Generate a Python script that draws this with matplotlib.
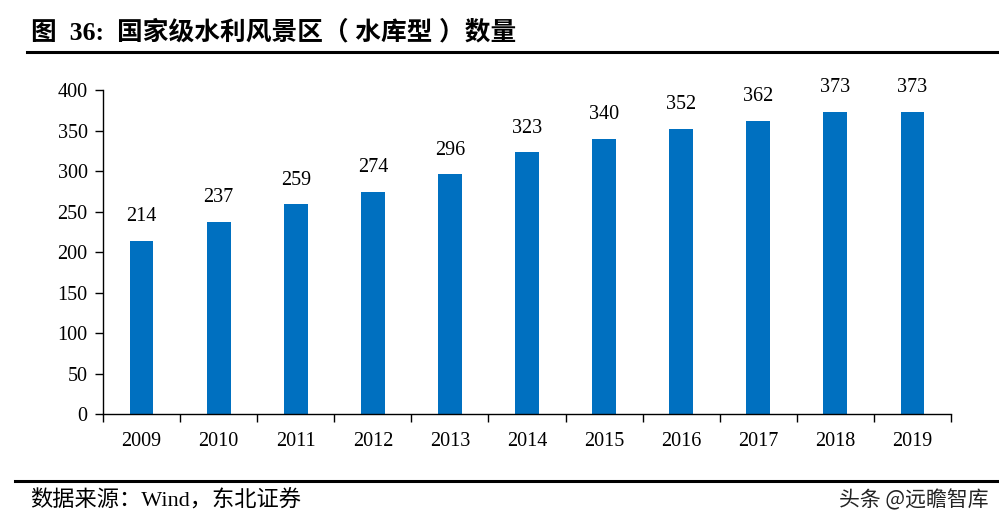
import matplotlib
matplotlib.use("Agg")
import matplotlib.pyplot as plt
from matplotlib.lines import Line2D

years = ["2009", "2010", "2011", "2012", "2013", "2014", "2015", "2016", "2017", "2018", "2019"]
counts = [214, 237, 259, 274, 296, 323, 340, 352, 362, 373, 373]
y_ticks = [0, 50, 100, 150, 200, 250, 300, 350, 400]

serif = ["Liberation Serif", "Noto Sans CJK SC"]
cjk = ["Noto Sans CJK SC", "DejaVu Sans"]

fig = plt.figure(figsize=(9.99, 5.23), dpi=100)
ax = fig.add_axes([0.1031, 0.2084, 0.8489, 0.6195])

x = list(range(len(years)))
ax.bar(x, counts, width=0.31, color="#0070C0")
for xi, v in zip(x, counts):
    ax.text(xi, v + 18, str(v), ha="center", va="bottom",
            fontsize=14.5, family=serif)

ax.set_xlim(-0.5, len(years) - 0.5)
ax.set_ylim(0, 400)
ax.set_yticks(y_ticks)
ax.set_yticklabels([str(t) for t in y_ticks], family=serif, fontsize=14.5)
ax.set_xticks(x)
ax.set_xticklabels(years, family=serif, fontsize=14.5)
ax.tick_params(axis="x", length=0, pad=13)
ax.set_xticks([i - 0.5 for i in range(len(years) + 1)], minor=True)
ax.tick_params(axis="x", which="minor", length=6, direction="out", width=1)
ax.tick_params(axis="y", length=6, direction="out", width=1, pad=5)
for s in ["top", "right"]:
    ax.spines[s].set_visible(False)
ax.spines["left"].set_linewidth(1)
ax.spines["bottom"].set_linewidth(1)

# title and rules
fig.text(0.031, 0.938, "图  36:  国家级水利风景区（ 水库型 ）数量", fontsize=18.5,
         fontweight="bold", family=serif, va="center")
fig.add_artist(Line2D([0.027, 1.0], [0.90, 0.90], color="black", lw=2.2))
fig.add_artist(Line2D([0.015, 1.0], [0.08, 0.08], color="black", lw=2.2))
fig.text(0.03, 0.043, "数据来源：Wind，东北证券", fontsize=16,
         family=serif, va="center")
fig.text(0.99, 0.043, "头条 @远瞻智库", fontsize=15, family=cjk,
         va="center", ha="right", color="#222222")

fig.savefig("out.png", dpi=100)
